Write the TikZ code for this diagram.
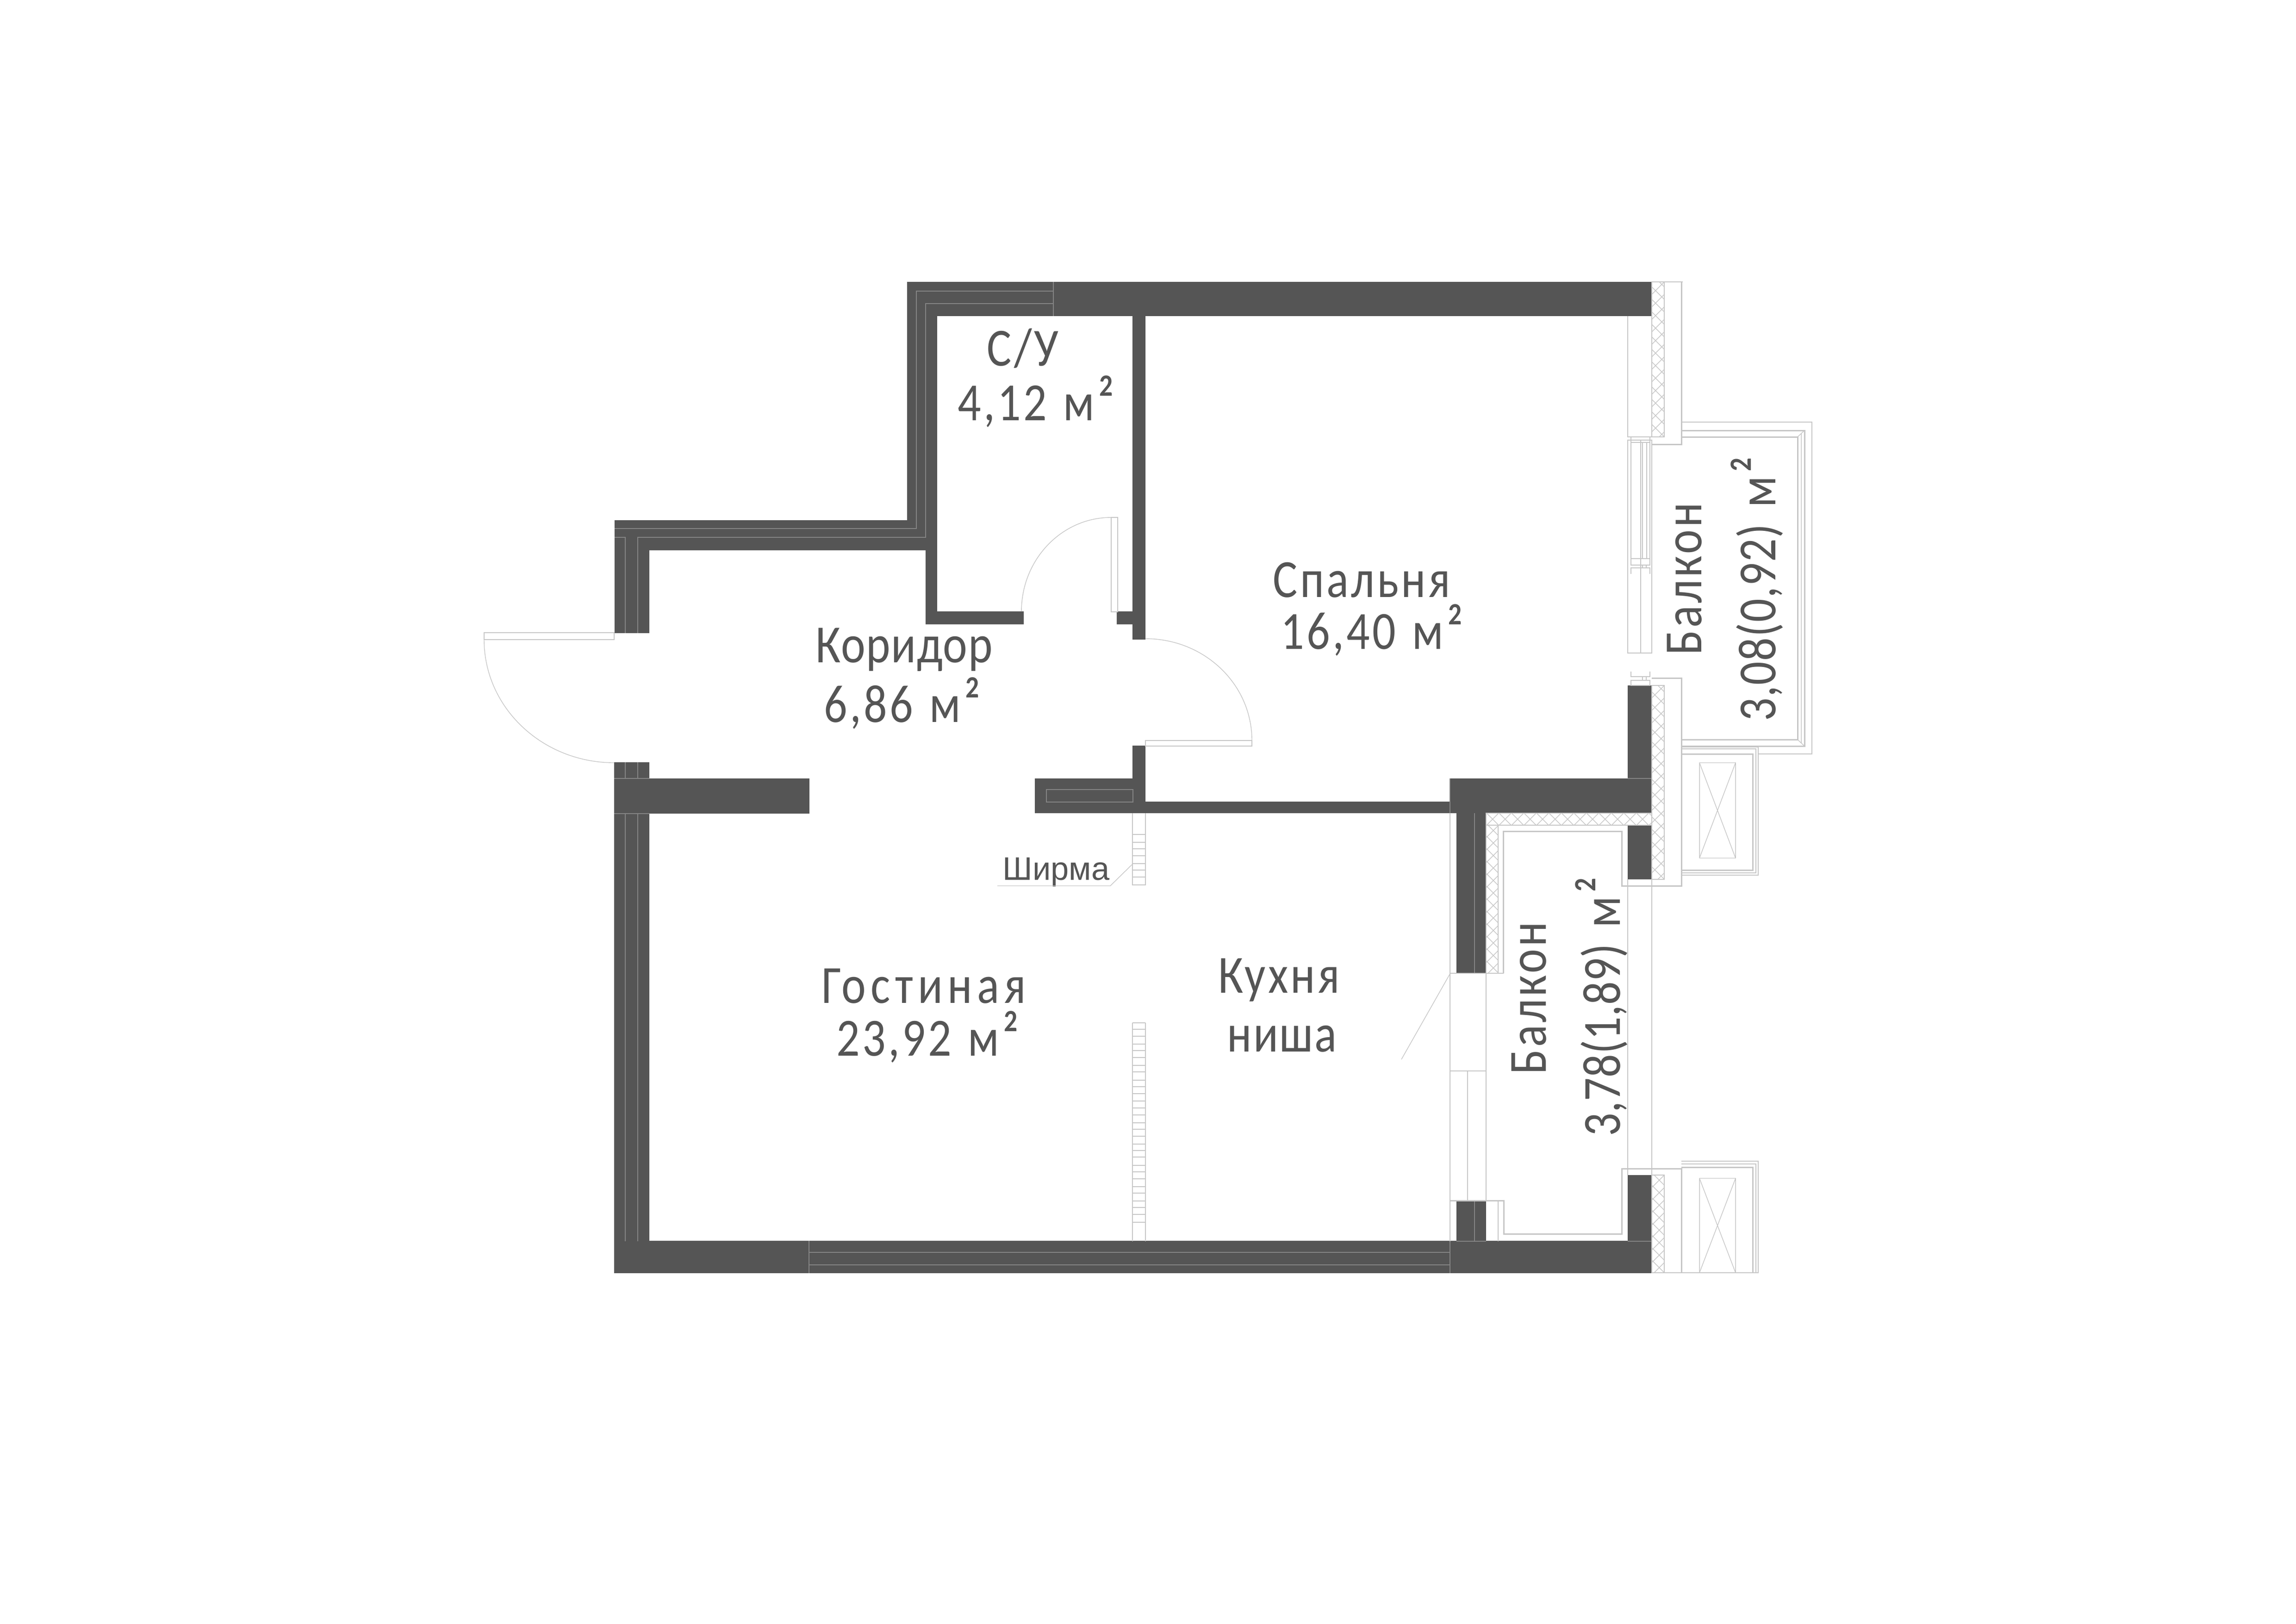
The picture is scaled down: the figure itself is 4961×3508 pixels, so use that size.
\documentclass[tikz,border=0pt]{standalone}
\usepackage{fontspec}
\setmainfont{Liberation Sans}
\newfontfamily\roomfont[FakeStretch=0.86,LetterSpace=4.5]{Carlito}
\definecolor{wallgray}{HTML}{555555}
\definecolor{seamgray}{HTML}{858585}
\definecolor{thingray}{HTML}{C6C6C6}
\newcommand{\mkv}{\hspace{10pt}м\hspace{3pt}\raisebox{15pt}{\fontsize{19}{19}\selectfont\bfseries 2}}
% hatch of the insulation strips
\newcommand{\hatchbox}[4]{%
\begin{scope}
\clip (#1,#2) rectangle (#3,#4);
\pgfmathsetmacro{\ca}{#1+#2}\pgfmathsetmacro{\cb}{\ca+27}\pgfmathsetmacro{\cc}{#3+#4}
\foreach \c in {\ca,\cb,...,\cc} \draw[thinline] (\c-#2,#2)--(\c-#4,#4);
\pgfmathsetmacro{\ca}{#1-#4}\pgfmathsetmacro{\cb}{\ca+27}\pgfmathsetmacro{\cc}{#3-#2}
\foreach \c in {\ca,\cb,...,\cc} \draw[thinline] (\c+#2,#2)--(\c+#4,#4);
\end{scope}
\draw[thinline] (#1,#2) rectangle (#3,#4);}
\tikzset{
wall/.style={fill=wallgray},
seam/.style={draw=seamgray, line width=.45pt},
thinline/.style={draw=thingray, line width=.4pt},
rail/.style={draw=thingray, line width=.85pt},
room/.style={font=\roomfont\fontsize{33}{33}\selectfont, text=wallgray, anchor=base west, inner sep=0pt},
}
\begin{document}
\begin{tikzpicture}[x=.01cm, y=-.01cm, line join=miter]
\useasboundingbox (0,0) rectangle (4961,3508);
%Walls
\foreach \a/\b/\c/\d in {1960/609/3569/683, 1960/609/2025/1189, 2000/1124/2025/1349, 1328/1124/2025/1189,
1328/1124/1403/1368, 2000/1321/2212/1349, 2447/683/2475/1382, 2413/1321/2447/1349, 2447/1611/2475/1757,
2236/1682/2447/1757, 2475/1732/3133/1757, 3133/1682/3569/1757, 3517/1481/3569/1682, 3517/1783/3569/1900,
3147/1757/3211/2103, 3147/2594/3211/2682, 3133/2681/3569/2751, 1327/2681/3133/2751, 1327/1647/1403/2682,
1327/1682/1749/1758, 3517/2539/3569/2682}
\fill[wall] (\a,\b) rectangle (\c,\d);
%Seams inside the walls
\draw[seam] (2276,609)--(2276,683) (2276,629)--(1980,629)--(1980,1142)--(1328,1142);
\draw[seam] (2276,656)--(2000,656)--(2000,1161)--(1378,1161)--(1378,1368) (1328,1161)--(1351,1161)--(1351,1368);
\draw[seam] (1351,1647)--(1351,1682) (1378,1647)--(1378,1682) (1327,1682)--(1403,1682) (1327,1758)--(1403,1758);
\draw[seam] (1351,1758)--(1351,2682) (1378,1758)--(1378,2682);
\draw[seam] (1748,2681)--(1748,2751) (3133,2681)--(3133,2751) (1748,2706)--(3133,2706) (1748,2733)--(3133,2733);
\draw[seam] (2261,1706) rectangle (2448,1733);
\draw[seam] (3186,1757)--(3186,2103) (3186,2594)--(3186,2682) (3133,1682)--(3133,1757) (3517,1682)--(3569,1682);
\draw[seam] (3517,2682)--(3569,2682) (3147,2682)--(3211,2682);
%Insulation
\hatchbox{3569}{609}{3596}{944}
\hatchbox{3569}{1481}{3596}{1900}
\hatchbox{3569}{2539}{3596}{2750}
\hatchbox{3211}{1757}{3569}{1783}
\hatchbox{3211}{1783}{3237}{2103}
%Doors
\draw[thinline] (1046,1367) rectangle (1327,1382);
\draw[thinline] (1046,1382) .. controls (1046,1529) and (1172,1648) .. (1327,1648);
\draw[thinline] (2401,1118) rectangle (2415,1322);
\draw[thinline] (2207,1321) .. controls (2207,1209) and (2294,1118) .. (2401,1118);
\draw[thinline] (2475,1600) rectangle (2705,1612);
\draw[thinline] (2475,1380) .. controls (2602,1380) and (2705,1478) .. (2705,1600);
%Bedroom window
\draw[thinline] (3517,683)--(3517,944)--(3569,944) (3569,609)--(3636,609);
\draw[thinline] (3517,951) rectangle (3569,1411) (3545,951)--(3545,1411);
\draw[thinline] (3524,944) rectangle (3565,1221) (3524,956)--(3565,956) (3524,1207)--(3565,1207);
\draw[thinline] (3549,956) rectangle (3558,1207) (3549,1221) rectangle (3557,1227);
\draw[thinline] (3524,1240)--(3524,1227)--(3565,1227)--(3565,1240);
\draw[thinline] (3524,1451)--(3524,1462)--(3565,1462)--(3565,1451);
\draw[thinline] (3549,1462) rectangle (3557,1470) (3524,1470) rectangle (3565,1481);
\draw[rail] (3633,609)--(3633,960)--(3569,960);
%Upper balcony
\draw[thinline] (3633,912)--(3915,912)--(3915,1629)--(3798,1629);
\draw[rail] (3633,930)--(3899,930)--(3899,1612)--(3633,1612);
\draw[rail] (3633,944)--(3884,944)--(3884,1598)--(3633,1598);
\draw[thinline] (3892,937)--(3892,1605) (3884,944)--(3899,930) (3884,1598)--(3899,1612);
%Lower balcony
\draw[rail] (3569,1465)--(3633,1465)--(3633,1914)--(3504,1914)--(3504,1796)--(3248,1796)--(3248,2103);
\draw[rail] (3133,2594)--(3249,2594)--(3249,2666)--(3504,2666)--(3504,2525)--(3633,2525)--(3633,2750);
\draw[thinline] (3133,1757)--(3133,2682) (3133,2103)--(3249,2103) (3211,2103)--(3211,2594) (3237,2594)--(3237,2682);
\draw[thinline] (3133,2314)--(3211,2314) (3171,2314)--(3171,2594);
\draw[thinline] (3517,1900)--(3517,2539) (3569,1900)--(3569,2539);
\draw[thinline] (3569,2750)--(3800,2750);
%Boxes for the outdoor units
\draw[thinline] (3633,1614)--(3799,1614)--(3799,1891)--(3633,1891);
\draw[thinline] (3633,1618)--(3794,1618)--(3794,1886)--(3633,1886);
\draw[rail] (3633,1629)--(3787,1629)--(3787,1880)--(3633,1880);
\draw[thinline] (3672,1648) rectangle (3750,1854) (3672,1648)--(3750,1854) (3750,1648)--(3672,1854);
\draw[thinline] (3633,2509)--(3799,2509)--(3799,2750);
\draw[thinline] (3633,2515)--(3794,2515)--(3794,2750);
\draw[rail] (3633,2522)--(3787,2522)--(3787,2750);
\draw[thinline] (3672,2750)--(3672,2546)--(3750,2546)--(3750,2750) (3672,2546)--(3750,2750) (3750,2546)--(3672,2750);
%Screen
\draw[thinline] (2447,1757)--(2447,1912)--(2475,1912)--(2475,1757);
\foreach \y in {1803,1820,1834,1849,1866,1880,1895} \draw[thinline] (2447,\y)--(2475,\y);
\draw[thinline] (2447,2210)--(2447,2682) (2475,2210)--(2475,2682) (2447,2210)--(2475,2210);
\foreach \y in {2224,2239,2256,2270,2285,2302,2316,2334,2348,2363,2379,2394,2409,2426,2440,2455,2472,2486,2500,2518,2532,2547,2564,2578,2595,2609,2624,2641}
\draw[thinline] (2447,\y)--(2475,\y);
%Labels
\node[room] (su) at (2132,790) {С/У};
\node[room] (suarea) at (2069,908) {4,12\mkv};
\node[room] (corridor) at (1762,1431) {\addfontfeature{LetterSpace=1.5}Коридор};
\node[room] (corridorarea) at (1780,1560) {6,86\mkv};
\node[room] (bedroom) at (2750,1290) {Спальня};
\node[room] (bedroomarea) at (2767,1402) {16,40\mkv};
\node[room] (living) at (1775,2167) {\addfontfeature{LetterSpace=9}Гостиная};
\node[room] (livingarea) at (1807,2281) {23,92\mkv};
\node[room] (kitchen) at (2632,2145) {Кухня};
\node[room] (niche) at (2651,2272) {\addfontfeature{LetterSpace=2.5}ниша};
\node[room, rotate=90] (balconyup) at (3676,1416) {Балкон};
\node[room, rotate=90] (balconyuparea) at (3836,1559) {\addfontfeature{LetterSpace=1.2}3,08(0,92)\mkv};
\node[room, rotate=90] (balconylow) at (3340,2322) {Балкон};
\node[room, rotate=90] (balconylowarea) at (3500,2456) {\addfontfeature{LetterSpace=0.2}3,78(1,89)\mkv};
\node[anchor=base west, inner sep=0pt, text=wallgray, font=\fontsize{20}{20}\selectfont] (shirma) at (2166,1901) {Ширма};
\coordinate (shirmafoot) at (2399,1914);
\coordinate (shirmastart) at (2155,1914);
\coordinate (screenpoint) at (2447,1867);
\coordinate (windowpoint) at (3133,2104);
\coordinate (kitchenpoint) at (3028,2289);
\draw[thinline] (shirmastart)--(shirmafoot)--(screenpoint);
\draw[thinline] (windowpoint)--(kitchenpoint);
\end{tikzpicture}
\end{document}
